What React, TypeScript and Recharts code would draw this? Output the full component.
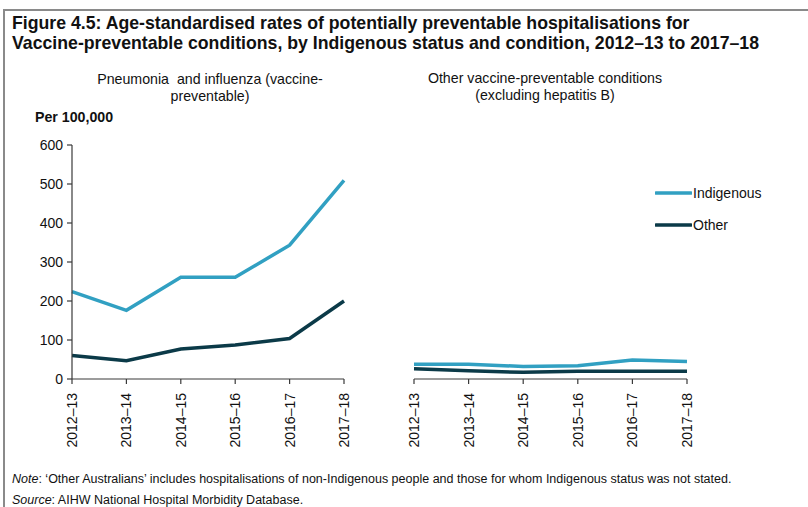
import { Line, LineChart, XAxis, YAxis } from "recharts"

const years = ["2012–13", "2013–14", "2014–15", "2015–16", "2016–17", "2017–18"]
const pneumoniaIndigenous = [224, 176, 261, 261, 343, 509]
const pneumoniaOther = [60, 47, 77, 87, 104, 200]
const otherVpcIndigenous = [38, 38, 32, 34, 49, 45]
const otherVpcOther = [26, 21, 17, 20, 20, 20]
const yTicks = [0, 100, 200, 300, 400, 500, 600]
const seriesNames = ["Indigenous", "Other"]

const INDIGENOUS = "#31a0c2"
const OTHER = "#0b3a48"
const AXIS = "#3a3a3a"
const FONT = "'Liberation Sans', Arial, sans-serif"

const pneumoniaData = years.map((year, i) => ({
  year,
  indigenous: pneumoniaIndigenous[i],
  other: pneumoniaOther[i],
}))

const otherData = years.map((year, i) => ({
  year,
  indigenous: otherVpcIndigenous[i],
  other: otherVpcOther[i],
}))

function YearTick({ x, y, payload }: any) {
  return (
    <text
      x={0}
      y={0}
      transform={`translate(${x + 5},${y + 7}) rotate(-90)`}
      textAnchor="end"
      fontSize={14}
      fontFamily={FONT}
      fill="#111"
    >
      {payload.value}
    </text>
  )
}

function LegendBox() {
  const colors = [INDIGENOUS, OTHER]
  return (
    <div style={{ position: "absolute", left: 655, top: 177, fontFamily: FONT, fontSize: 14, color: "#111" }}>
      {seriesNames.map((label, i) => (
        <div key={label} style={{ display: "flex", alignItems: "center", height: 32 }}>
          <svg width={37} height={6}>
            <line x1={1} y1={3} x2={36} y2={3} stroke={colors[i]} strokeWidth={3.5} strokeLinecap="round" />
          </svg>
          <span style={{ marginLeft: 1 }}>{label}</span>
        </div>
      ))}
    </div>
  )
}

function Panel({ data, showY }: { data: any[]; showY?: boolean }) {
  return (
    <LineChart
      width={showY ? 400 : 360}
      height={507}
      data={data}
      margin={showY ? { top: 145, right: 56, bottom: 58, left: 32 } : { top: 145, right: 53, bottom: 58, left: 34 }}
    >
      <XAxis
        dataKey="year"
        interval={0}
        height={70}
        tick={<YearTick />}
        tickSize={5}
        stroke={AXIS}
        strokeWidth={1.2}
      />
      <YAxis
        hide={!showY}
        domain={[0, 600]}
        ticks={yTicks}
        width={40}
        tickSize={5}
        tickMargin={4}
        stroke={AXIS}
        strokeWidth={1.2}
        tick={{ fontSize: 14, fontFamily: FONT, fill: "#111" }}
      />
      <Line
        dataKey="indigenous"
        stroke={INDIGENOUS}
        strokeWidth={3.5}
        dot={false}
        isAnimationActive={false}
        name={seriesNames[0]}
      />
      <Line
        dataKey="other"
        stroke={OTHER}
        strokeWidth={3.5}
        dot={false}
        isAnimationActive={false}
        name={seriesNames[1]}
      />
    </LineChart>
  )
}

const titleStyle = {
  position: "absolute" as const,
  left: 12,
  fontSize: 17.7,
  fontWeight: "bold",
  lineHeight: "18px",
  whiteSpace: "nowrap" as const,
}

export default function App() {
  return (
    <div
      style={{
        position: "absolute",
        left: 0,
        top: 0,
        width: 808,
        height: 507,
        background: "#fff",
        overflow: "hidden",
        fontFamily: FONT,
        color: "#111",
      }}
    >
      <div
        style={{
          position: "absolute",
          left: 3,
          top: 9,
          width: 820,
          height: 520,
          borderLeft: "2px solid #8a8a8a",
          borderTop: "2px solid #8a8a8a",
        }}
      />
      <div style={{ ...titleStyle, top: 14 }}>
        Figure 4.5: Age-standardised rates of potentially preventable hospitalisations for
      </div>
      <div style={{ ...titleStyle, top: 34 }}>
        Vaccine-preventable conditions, by Indigenous status and condition, 2012–13 to 2017–18
      </div>
      <div
        style={{
          position: "absolute",
          left: 60,
          width: 300,
          top: 71,
          fontSize: 14.2,
          lineHeight: "17px",
          textAlign: "center",
          whiteSpace: "pre",
        }}
      >
        {"Pneumonia  and influenza (vaccine-\npreventable)"}
      </div>
      <div
        style={{
          position: "absolute",
          left: 395,
          width: 300,
          top: 70,
          fontSize: 14.2,
          lineHeight: "17px",
          textAlign: "center",
          whiteSpace: "pre",
        }}
      >
        {"Other vaccine-preventable conditions\n(excluding hepatitis B)"}
      </div>
      <div style={{ position: "absolute", left: 35, top: 109, fontSize: 14.2, fontWeight: "bold" }}>
        Per 100,000
      </div>
      <div style={{ position: "absolute", left: 0, top: 0 }}>
        <Panel data={pneumoniaData} showY />
      </div>
      <div style={{ position: "absolute", left: 380, top: 0 }}>
        <Panel data={otherData} />
      </div>
      <LegendBox />
      <div style={{ position: "absolute", left: 12, top: 472, fontSize: 12.5 }}>
        <i>Note</i>: ‘Other Australians’ includes hospitalisations of non-Indigenous people and those for whom Indigenous
        status was not stated.
      </div>
      <div style={{ position: "absolute", left: 12, top: 493, fontSize: 12.5 }}>
        <i>Source</i>: AIHW National Hospital Morbidity Database.
      </div>
    </div>
  )
}
